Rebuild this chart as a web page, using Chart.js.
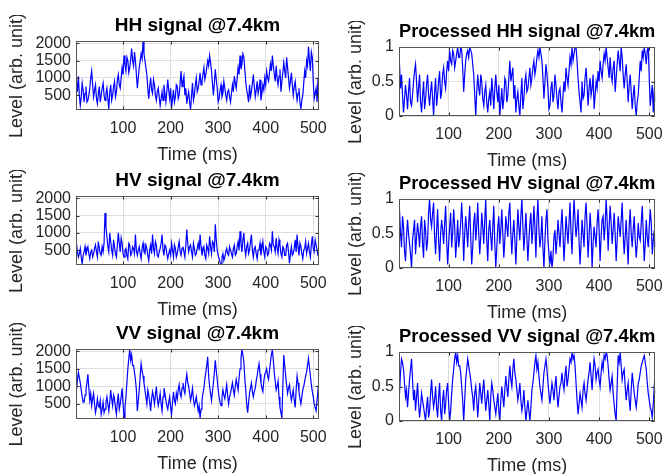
<!DOCTYPE html>
<html>
<head>
<meta charset="utf-8">
<script src="https://cdn.jsdelivr.net/npm/chart.js@4.4.1/dist/chart.umd.min.js"></script>
<style>
  body { margin: 0; background: #fff; width: 672px; height: 474px; position: relative; overflow: hidden; }
  canvas { position: absolute; }
</style>
</head>
<body>
<canvas id="hh"></canvas>
<canvas id="phh"></canvas>
<canvas id="hv"></canvas>
<canvas id="phv"></canvas>
<canvas id="vv"></canvas>
<canvas id="pvv"></canvas>
<script>
// sample times (ms)
const time = [
  2,4,6,8,10,12,14,16,18,20,22,24,26,28,30,32,34,36,38,40,42,44,46,48,50,52,54,56,58,60,62,64,
  66,68,70,72,74,76,78,80,82,84,86,88,90,92,94,96,98,100,102,104,106,108,110,112,114,116,118,120,122,124,126,128,
  130,132,134,136,138,140,142,144,146,148,150,152,154,156,158,160,162,164,166,168,170,172,174,176,178,180,182,184,186,188,190,192,
  194,196,198,200,202,204,206,208,210,212,214,216,218,220,222,224,226,228,230,232,234,236,238,240,242,244,246,248,250,252,254,256,
  258,260,262,264,266,268,270,272,274,276,278,280,282,284,286,288,290,292,294,296,298,300,302,304,306,308,310,312,314,316,318,320,
  322,324,326,328,330,332,334,336,338,340,342,344,346,348,350,352,354,356,358,360,362,364,366,368,370,372,374,376,378,380,382,384,
  386,388,390,392,394,396,398,400,402,404,406,408,410,412,414,416,418,420,422,424,426,428,430,432,434,436,438,440,442,444,446,448,
  450,452,454,456,458,460,462,464,466,468,470,472,474,476,478,480,482,484,486,488,490,492,494,496,498,500,502,504,506,508,510,512];

// raw levels (arb. unit)
const hhRaw = [
  900,600,1050,500,200,450,850,650,300,550,750,300,350,500,700,1000,
  1200,800,450,650,800,400,250,550,750,300,500,700,850,500,350,550,
  700,400,100,600,800,350,500,750,900,450,600,950,1100,800,700,1000,
  1300,1100,1650,1400,1200,1600,1500,1150,1300,1550,1850,1500,1350,1750,1500,1100,
  700,1000,1300,1500,1700,1550,2050,1700,1500,1300,1100,700,400,750,1000,650,
  550,950,800,500,350,600,700,450,200,400,600,350,800,550,300,600,
  950,650,400,700,120,400,650,300,450,800,750,400,500,850,1200,750,
  900,1050,500,700,250,450,600,300,80,500,850,350,500,800,1000,600,
  700,900,1150,800,900,1100,1300,950,1100,1300,1500,1350,1650,1450,1200,850,
  500,850,1250,950,700,300,400,650,800,450,550,900,700,500,350,600,
  650,450,300,550,800,600,1050,850,700,1000,1300,1100,1650,1250,1400,1700,
  1600,1250,900,650,500,300,800,450,600,850,1100,750,450,650,900,550,
  700,950,350,550,800,650,1000,800,1200,1000,900,1150,1400,1200,1650,1350,
  1100,900,1350,1000,800,1050,1250,600,900,1150,1450,1200,1000,1600,1300,1000,
  700,900,1150,800,500,750,900,600,350,550,700,300,100,350,500,850,
  1200,1000,1500,1350,1900,1500,1200,1750,1600,900,400,550,700,300,1000,700];

const hvRaw = [
  700,450,300,400,550,300,100,350,450,600,350,500,600,400,250,450,
  500,300,400,550,650,450,300,750,550,400,350,600,450,700,1580,1150,
  900,600,450,1000,750,500,350,800,600,400,300,650,1000,700,450,850,
  700,400,300,500,550,350,250,700,650,350,400,600,550,400,950,500,
  350,500,600,400,250,550,700,450,400,650,550,350,200,500,650,400,
  950,550,400,750,650,350,300,450,550,700,950,500,350,650,600,400,
  250,400,500,350,700,500,300,650,550,300,400,600,750,450,350,550,
  600,450,300,650,1100,700,450,600,650,450,300,700,550,350,400,550,
  700,500,950,600,350,500,600,350,250,650,550,400,900,600,400,750,
  700,450,1250,800,500,350,250,150,80,300,400,200,300,450,550,400,
  350,600,500,400,300,550,650,350,400,600,750,500,1050,700,450,800,
  1000,550,350,600,700,400,500,750,950,500,300,550,600,400,250,500,
  500,700,350,550,750,450,300,600,550,350,400,700,650,500,1050,650,
  600,450,850,550,400,800,650,400,300,600,550,350,350,650,700,450,
  120,400,600,350,400,550,800,450,950,600,350,700,600,400,250,500,
  550,750,400,550,700,450,300,650,900,550,450,800,650,500,350,600];

const vvRaw = [
  900,1200,1400,1250,1100,900,700,550,550,750,900,1100,1350,950,600,800,
  450,650,800,500,250,400,650,450,400,600,200,350,550,250,350,550,
  700,500,300,550,900,650,450,750,650,400,200,550,800,350,500,700,
  950,500,100,400,700,1100,1500,1800,2050,1750,1900,1600,1600,1400,1200,900,
  300,600,900,1300,1650,1450,1300,1100,900,700,500,900,750,550,300,650,
  850,700,500,750,1000,650,450,600,800,500,300,700,950,800,600,450,
  350,550,700,400,200,550,850,600,500,800,650,900,1050,800,700,950,
  1100,900,800,1150,1350,1100,1000,800,600,750,950,650,450,550,700,500,
  300,450,100,350,600,800,950,1200,1400,1600,1850,1300,1000,800,600,850,
  1100,1400,1750,1450,1200,900,700,550,450,700,900,750,650,850,1050,750,
  500,700,800,950,1100,900,750,1000,1200,1050,900,1250,1500,1800,2050,1900,
  1700,1250,900,500,250,550,800,950,1100,850,700,850,950,1150,1300,1500,
  1650,1350,1100,950,850,1150,1350,1400,1500,1300,1200,1450,1700,1900,2050,1750,
  1400,1150,900,1000,1150,700,400,250,100,1000,1900,1600,1300,1050,800,950,
  1050,800,600,750,900,600,400,900,1300,1100,850,650,500,700,900,1000,
  1150,1300,1400,1600,1800,1550,1300,1050,850,700,500,400,300,600,900,700];

// processed levels (normalised)
const hhProc = [
  0.75,0.4,0.6,0.3,0.05,0.25,0.45,0.3,0.1,0.35,0.55,0.2,0.15,0.3,0.5,0.65,
  0.75,0.5,0.2,0.4,0.6,0.2,0.05,0.3,0.5,0.1,0.25,0.45,0.6,0.3,0.15,0.35,
  0.5,0.25,0.0,0.35,0.55,0.15,0.3,0.5,0.65,0.25,0.35,0.6,0.7,0.5,0.4,0.65,
  0.8,0.65,0.95,0.8,0.75,0.95,0.9,0.7,0.8,0.9,1.0,0.85,0.85,1.0,0.95,0.7,
  0.35,0.6,0.8,0.9,0.95,0.85,1.0,0.95,0.9,0.75,0.6,0.3,0.0,0.35,0.6,0.4,
  0.3,0.6,0.5,0.25,0.15,0.35,0.45,0.2,0.05,0.25,0.35,0.15,0.55,0.35,0.1,0.4,
  0.6,0.35,0.2,0.45,0.0,0.2,0.4,0.1,0.25,0.55,0.5,0.2,0.3,0.55,0.8,0.5,
  0.6,0.7,0.25,0.45,0.05,0.25,0.35,0.15,0.0,0.3,0.55,0.1,0.25,0.5,0.6,0.35,
  0.4,0.55,0.7,0.45,0.55,0.7,0.8,0.6,0.7,0.85,0.95,0.85,1.0,0.9,0.8,0.55,
  0.25,0.5,0.75,0.6,0.4,0.1,0.15,0.4,0.5,0.2,0.3,0.6,0.45,0.25,0.1,0.35,
  0.4,0.2,0.05,0.3,0.5,0.35,0.7,0.55,0.45,0.65,0.85,0.75,1.0,0.8,0.9,1.0,
  1.0,0.8,0.55,0.35,0.2,0.05,0.5,0.25,0.3,0.55,0.7,0.45,0.15,0.4,0.55,0.3,
  0.4,0.6,0.1,0.3,0.5,0.4,0.65,0.5,0.8,0.65,0.55,0.75,0.9,0.8,1.0,0.85,
  0.7,0.55,0.85,0.6,0.5,0.7,0.8,0.35,0.55,0.75,0.95,0.8,0.65,1.0,0.85,0.6,
  0.4,0.6,0.75,0.5,0.2,0.45,0.6,0.35,0.1,0.3,0.45,0.15,0.0,0.2,0.3,0.55,
  0.8,0.65,0.95,0.85,1.0,0.9,0.75,0.95,1.0,0.55,0.15,0.3,0.45,0.05,0.4,0.2];

const hvProc = [
  0.85,0.5,0.3,0.75,0.6,0.25,0.1,0.45,0.7,0.5,0.35,0.2,0.0,0.4,0.55,0.7,
  0.2,0.45,0.65,0.5,0.3,0.6,0.75,0.35,0.15,0.7,0.55,0.25,0.4,0.8,1.0,0.7,
  0.6,0.8,0.95,0.45,0.2,0.55,0.85,0.4,0.1,0.5,0.7,0.55,0.35,0.65,0.9,0.4,
  0.05,0.35,0.6,0.8,0.3,0.5,0.85,0.6,0.15,0.4,0.7,0.3,0.45,0.65,0.95,0.6,
  0.1,0.5,0.75,0.55,0.3,0.65,0.9,0.45,0.05,0.3,0.65,0.8,0.4,0.6,0.95,0.5,
  0.2,0.45,0.8,0.6,0.35,0.7,1.0,0.4,0.1,0.55,0.7,0.45,0.25,0.6,0.9,0.35,
  0.0,0.3,0.6,0.75,0.35,0.55,0.85,0.5,0.15,0.4,0.75,0.6,0.45,0.8,0.95,0.5,
  0.2,0.5,0.7,0.4,0.05,0.45,0.85,0.6,0.4,0.75,1.0,0.6,0.25,0.5,0.8,0.45,
  0.1,0.4,0.65,0.8,0.35,0.55,0.9,0.6,0.15,0.7,1.0,0.55,0.3,0.45,0.75,0.3,
  0.0,0.4,0.7,0.85,0.4,0.2,0.05,0.25,0.0,0.15,0.45,0.55,0.2,0.4,0.7,0.5,
  0.3,0.6,0.85,0.5,0.1,0.4,0.75,0.55,0.35,0.65,0.95,0.5,0.2,0.65,1.0,0.7,
  0.45,0.6,0.85,0.4,0.05,0.35,0.7,0.5,0.3,0.75,0.95,0.6,0.15,0.45,0.8,0.55,
  0.0,0.35,0.6,0.45,0.3,0.65,0.85,0.55,0.1,0.45,0.7,0.75,0.4,0.6,1.0,0.7,
  0.25,0.6,0.9,0.65,0.35,0.55,0.8,0.5,0.1,0.4,0.75,0.6,0.45,0.7,0.95,0.5,
  0.2,0.45,0.7,0.35,0.05,0.6,0.85,0.5,0.3,0.55,0.75,0.4,0.15,0.35,0.65,0.45,
  0.4,0.65,0.9,0.5,0.1,0.35,0.7,0.45,0.3,0.6,0.85,0.65,0.2,0.4,0.55,0.3];

const vvProc = [
  0.4,0.7,0.9,0.85,0.75,0.55,0.35,0.45,0.2,0.4,0.6,0.75,0.9,0.6,0.3,0.45,
  0.15,0.35,0.55,0.25,0.05,0.2,0.4,0.3,0.2,0.1,0.0,0.2,0.35,0.05,0.15,0.4,
  0.6,0.35,0.2,0.3,0.5,0.2,0.05,0.35,0.55,0.15,0.0,0.3,0.45,0.1,0.25,0.45,
  0.55,0.25,0.0,0.15,0.4,0.6,0.75,0.9,1.0,0.85,0.95,0.8,0.8,0.7,0.5,0.3,
  0.0,0.3,0.6,0.75,0.9,0.8,0.7,0.6,0.45,0.35,0.15,0.4,0.5,0.3,0.05,0.3,
  0.55,0.4,0.25,0.45,0.6,0.35,0.15,0.3,0.45,0.25,0.0,0.35,0.55,0.45,0.3,0.2,
  0.1,0.25,0.4,0.15,0.0,0.3,0.5,0.35,0.2,0.45,0.65,0.5,0.35,0.6,0.8,0.6,
  0.5,0.75,0.9,0.7,0.6,0.45,0.3,0.4,0.55,0.3,0.15,0.25,0.45,0.2,0.0,0.15,
  0.3,0.15,0.0,0.2,0.45,0.55,0.7,0.85,0.95,0.75,0.85,0.65,0.5,0.4,0.3,0.5,
  0.7,0.8,0.9,0.75,0.55,0.4,0.25,0.4,0.55,0.45,0.3,0.5,0.65,0.4,0.2,0.35,
  0.5,0.55,0.7,0.55,0.45,0.65,0.8,0.5,0.6,0.75,0.9,0.85,1.0,0.9,0.95,0.8,
  0.55,0.3,0.1,0.25,0.4,0.3,0.2,0.45,0.55,0.4,0.3,0.45,0.6,0.7,0.85,0.65,
  0.45,0.7,0.9,0.8,0.6,0.7,0.75,0.6,0.5,0.7,0.85,0.75,0.95,0.9,1.0,0.95,
  0.8,0.6,0.45,0.55,0.65,0.4,0.25,0.1,0.0,0.5,0.95,0.85,1.0,0.8,0.6,0.7,
  0.75,0.5,0.3,0.45,0.55,0.3,0.15,0.45,0.7,0.55,0.4,0.3,0.2,0.35,0.55,0.6,
  0.7,0.8,0.85,0.9,0.95,0.85,0.75,0.55,0.4,0.3,0.2,0.15,0.05,0.25,0.5,0.4];

const timeTicks = [100, 200, 300, 400, 500];
const rawTicks = [500, 1000, 1500, 2000];
const procTicks = [0, 0.5, 1];

const font = "'Liberation Sans', Arial, Helvetica, sans-serif";
const ink = '#262626';

// layout of the 6 axes (canvas position + fixed axis sizes)
const panels = [
  { id: 'hh',  title: 'HH signal @7.4km',           values: hhRaw,  raw: true,  left: 0,   top: 15,  h: 151, yw: 76, yPad: 6, padR: 11 },
  { id: 'phh', title: 'Processed HH signal @7.4km', values: hhProc, raw: false, left: 336, top: 21,  h: 151, yw: 63, yPad: 9, padR: 10 },
  { id: 'hv',  title: 'HV signal @7.4km',           values: hvRaw,  raw: true,  left: 0,   top: 170, h: 151, yw: 76, yPad: 6, padR: 11 },
  { id: 'phv', title: 'Processed HV signal @7.4km', values: hvProc, raw: false, left: 336, top: 173, h: 151, yw: 63, yPad: 9, padR: 10 },
  { id: 'vv',  title: 'VV signal @7.4km',           values: vvRaw,  raw: true,  left: 0,   top: 323, h: 152, yw: 76, yPad: 6, padR: 11 },
  { id: 'pvv', title: 'Processed VV signal @7.4km', values: vvProc, raw: false, left: 336, top: 326, h: 151, yw: 63, yPad: 9, padR: 10 }
];

// axes box with inward tick marks, MATLAB style
const boxPlugin = {
  id: 'box',
  afterDatasetsDraw(chart) {
    const { ctx, chartArea: a, scales } = chart;
    const l = Math.round(a.left) + 0.5, r = Math.round(a.right) - 0.5;
    const t = Math.round(a.top) + 0.5, b = Math.round(a.bottom) - 0.5;
    ctx.save();
    ctx.strokeStyle = ink;
    ctx.lineWidth = 1;
    ctx.beginPath();
    scales.x.ticks.forEach(tk => {
      const px = Math.round(scales.x.getPixelForValue(tk.value)) + 0.5;
      ctx.moveTo(px, b); ctx.lineTo(px, b - 3);
      ctx.moveTo(px, t); ctx.lineTo(px, t + 3);
    });
    scales.y.ticks.forEach(tk => {
      const py = Math.round(scales.y.getPixelForValue(tk.value)) + 0.5;
      ctx.moveTo(l, py); ctx.lineTo(l + 3, py);
      ctx.moveTo(r, py); ctx.lineTo(r - 3, py);
    });
    ctx.stroke();
    ctx.strokeStyle = '#555';
    ctx.strokeRect(l, t, r - l, b - t);
    ctx.restore();
  }
};

panels.forEach(p => {
  const cv = document.getElementById(p.id);
  cv.width = 336;
  cv.height = p.h;
  cv.style.left = p.left + 'px';
  cv.style.top = p.top + 'px';

  new Chart(cv.getContext('2d'), {
    type: 'line',
    data: {
      datasets: [{
        data: time.map((t, i) => ({ x: t, y: p.values[i] })),
        borderColor: '#0000ff',
        borderWidth: 1.2,
        pointRadius: 0,
        tension: 0
      }]
    },
    options: {
      responsive: false,
      animation: false,
      layout: { padding: { left: 0, right: p.padR, top: 0, bottom: 0 } },
      plugins: {
        legend: { display: false },
        tooltip: { enabled: false },
        title: {
          display: true,
          text: p.title,
          fullSize: false,
          color: '#000',
          font: { family: font, size: 19, weight: 'bold', lineHeight: '22px' },
          padding: { top: 0, bottom: 4 }
        }
      },
      scales: {
        x: {
          type: 'linear',
          min: 1,
          max: 512,
          afterBuildTicks: s => { s.ticks = timeTicks.map(v => ({ value: v })); },
          afterFit: s => { s.height = 56; },
          grid: { color: '#dedede', drawTicks: false },
          border: { display: false },
          ticks: { color: ink, padding: 9, maxRotation: 0, font: { family: font, size: 16 }, callback: v => String(v) },
          title: { display: true, text: 'Time (ms)', color: ink, font: { family: font, size: 18 }, padding: { top: 0, bottom: 0 } }
        },
        y: {
          min: p.raw ? 70 : 0,
          max: p.raw ? 2070 : 1,
          afterBuildTicks: s => { s.ticks = (p.raw ? rawTicks : procTicks).map(v => ({ value: v })); },
          afterFit: s => { s.width = p.yw; },
          grid: { color: '#dedede', drawTicks: false },
          border: { display: false },
          ticks: { color: ink, padding: 5, font: { family: font, size: 16 }, callback: v => String(v) },
          title: { display: true, text: 'Level (arb. unit)', color: ink, font: { family: font, size: 18 }, padding: { top: p.yPad, bottom: 0 } }
        }
      }
    },
    plugins: [boxPlugin]
  });
});
</script>
</body>
</html>
